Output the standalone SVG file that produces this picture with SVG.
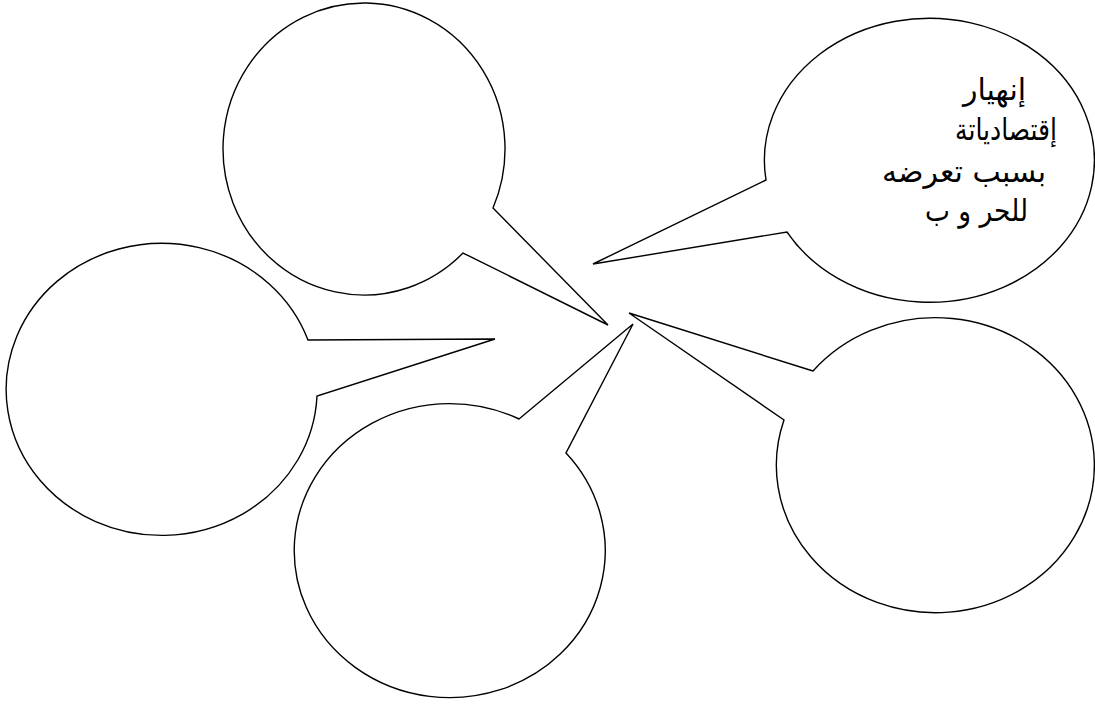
<svg xmlns="http://www.w3.org/2000/svg" width="1095" height="706" viewBox="0 0 1095 706">
<style>
.bubble{fill:#fff;stroke:#000;stroke-width:1.4;stroke-linejoin:miter}
.t{font-family:"DejaVu Sans","Noto Sans",sans-serif;font-size:30px;fill:#000;text-anchor:middle}
</style>
<rect width="1095" height="706" fill="#fff"/>
<g id="bubble-top-left">
<path class="bubble" d="M493,208 L608,325 L463,253 A141,146 0 1 1 493,208 Z"/>
</g>
<g id="bubble-top-right">
<path class="bubble" d="M766,180 L593,264 L787,232 A165,142 0 1 0 766,180 Z"/>
<text class="t" x="994.5" y="100">إنهيار</text>
<text class="t" x="1006" y="140" textLength="102" lengthAdjust="spacingAndGlyphs">إقتصادياتة</text>
<text class="t" x="964" y="182">بسبب تعرضه</text>
<text class="t" x="976.5" y="221" textLength="103" lengthAdjust="spacingAndGlyphs">للحر و ب</text>
</g>
<g id="bubble-left">
<path class="bubble" d="M308,340 L495,339 L317,396 A155.5,146 0 1 1 308,340 Z"/>
</g>
<g id="bubble-bottom-middle">
<path class="bubble" d="M519,419 L633,324 L566,453 A155.5,147 0 1 1 519,419 Z"/>
</g>
<g id="bubble-bottom-right">
<path class="bubble" d="M813,371 L629,313 L784,420 A159,147.5 0 1 0 813,371 Z"/>
</g>
</svg>
